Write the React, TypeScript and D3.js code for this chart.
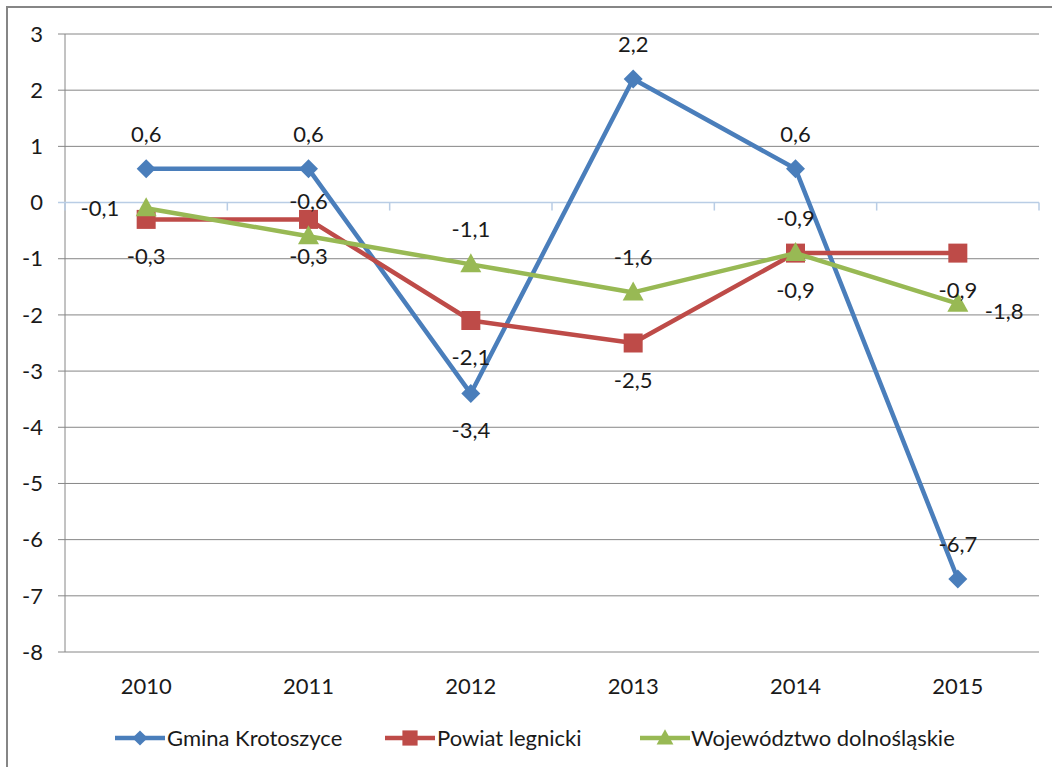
import React from "react";
import * as d3 from "d3";

const years = ["2010", "2011", "2012", "2013", "2014", "2015"];
const gmina = [0.6, 0.6, -3.4, 2.2, 0.6, -6.7];
const powiat = [-0.3, -0.3, -2.1, -2.5, -0.9, -0.9];
const wojewodztwo = [-0.1, -0.6, -1.1, -1.6, -0.9, -1.8];
const gminaPos = ["above", "above", "below", "above", "above", "above"];
const powiatPos = ["below", "below", "below", "below", "below", "below"];
const wojPos = ["left", "above", "above", "above", "above", "right"];
const yTicks = [3, 2, 1, 0, -1, -2, -3, -4, -5, -6, -7, -8];
const seriesNames = ["Gmina Krotoszyce", "Powiat legnicki", "Województwo dolnośląskie"];

const W = 1052, H = 767;
const FONT = "Lato, 'Open Sans', sans-serif";
const FS = 22;

export default function App() {
  const x = d3.scaleBand().domain(years).range([65, 1039]);
  const y = d3.scaleLinear().domain([-8, 3]).range([652, 34]);
  const line = d3.line<number>().x((_, i) => x(years[i])! + x.bandwidth() / 2).y((d) => y(d));
  const fmt = (v: number) => String(v).replace(".", ",");

  const series = [
    { name: seriesNames[0], data: gmina, pos: gminaPos, color: "#4a7ebb", marker: "diamond" },
    { name: seriesNames[1], data: powiat, pos: powiatPos, color: "#be4b48", marker: "square" },
    { name: seriesNames[2], data: wojewodztwo, pos: wojPos, color: "#98b954", marker: "triangle" },
  ];

  const markerPath = (m: string, cx: number, cy: number) => {
    if (m === "diamond") return `M${cx},${cy - 9.5}L${cx + 9.5},${cy}L${cx},${cy + 9.5}L${cx - 9.5},${cy}Z`;
    if (m === "square") return `M${cx - 9.5},${cy - 9.5}h19v19h-19Z`;
    return `M${cx},${cy - 11}L${cx + 10.5},${cy + 8}L${cx - 10.5},${cy + 8}Z`;
  };

  const labelXY = (pos: string, cx: number, cy: number): [number, number, string] => {
    if (pos === "above") return [cx, cy - 35, "middle"];
    if (pos === "below") return [cx, cy + 37, "middle"];
    if (pos === "left") return [cx - 27, cy, "end"];
    return [cx + 27, cy + 8, "start"];
  };

  const zeroY = y(0);
  const boundaries = years.map((_, i) => 65 + i * x.step()).concat([1039]);

  const legendItems = [
    { x0: 115, tx: 167 },
    { x0: 385, tx: 437 },
    { x0: 640, tx: 691 },
  ];

  return (
    <svg width={W} height={H} style={{ position: "absolute", left: 0, top: 0, background: "#fff" }} fontFamily={FONT}>
      <rect x={7} y={7} width={W + 10} height={H + 10} fill="#fff" stroke="#868686" strokeWidth={2} />
      {yTicks.filter((t) => t !== 0).map((t) => (
        <line key={t} x1={58} x2={1039} y1={y(t)} y2={y(t)} stroke="#868686" strokeWidth={1} />
      ))}
      <line x1={65} x2={65} y1={y(3)} y2={y(-8)} stroke="#868686" strokeWidth={1} />
      <line x1={58} x2={1039} y1={zeroY} y2={zeroY} stroke="#b9cde5" strokeWidth={1.5} />
      {boundaries.map((bx, i) => (
        <line key={i} x1={bx} x2={bx} y1={zeroY} y2={zeroY + 8} stroke="#b9cde5" strokeWidth={1.5} />
      ))}
      {yTicks.map((t) => (
        <text key={t} x={43} y={y(t)} dy="0.35em" textAnchor="end" fontSize={FS} fill="#1a1a1a">{t}</text>
      ))}
      {years.map((yr) => (
        <text key={yr} x={x(yr)! + x.bandwidth() / 2} y={686} dy="0.35em" textAnchor="middle" fontSize={FS} fill="#1a1a1a">{yr}</text>
      ))}
      {series.map((s) => (
        <g key={s.name}>
          <path d={line(s.data)!} fill="none" stroke={s.color} strokeWidth={4.5} strokeLinejoin="round" />
          {s.data.map((v, i) => (
            <path key={i} d={markerPath(s.marker, x(years[i])! + x.bandwidth() / 2, y(v))} fill={s.color} />
          ))}
        </g>
      ))}
      {series.map((s) => (
        <g key={s.name + "l"}>
          {s.data.map((v, i) => {
            const [lx, ly, anchor] = labelXY(s.pos[i], x(years[i])! + x.bandwidth() / 2, y(v));
            return (
              <text key={i} x={lx} y={ly} dy="0.35em" textAnchor={anchor} fontSize={FS} fill="#1a1a1a">{fmt(v)}</text>
            );
          })}
        </g>
      ))}
      {series.map((s, i) => {
        const li = legendItems[i];
        const cy = 738;
        return (
          <g key={s.name + "leg"}>
            <line x1={li.x0} x2={li.x0 + 50} y1={cy} y2={cy} stroke={s.color} strokeWidth={4.5} />
            <path d={markerPath(s.marker, li.x0 + 25, cy)} fill={s.color} transform={`translate(${li.x0 + 25},${cy}) scale(0.8) translate(${-(li.x0 + 25)},${-cy})`} />
            <text x={li.tx} y={cy} dy="0.35em" fontSize={FS} fill="#1a1a1a">{s.name}</text>
          </g>
        );
      })}
    </svg>
  );
}
